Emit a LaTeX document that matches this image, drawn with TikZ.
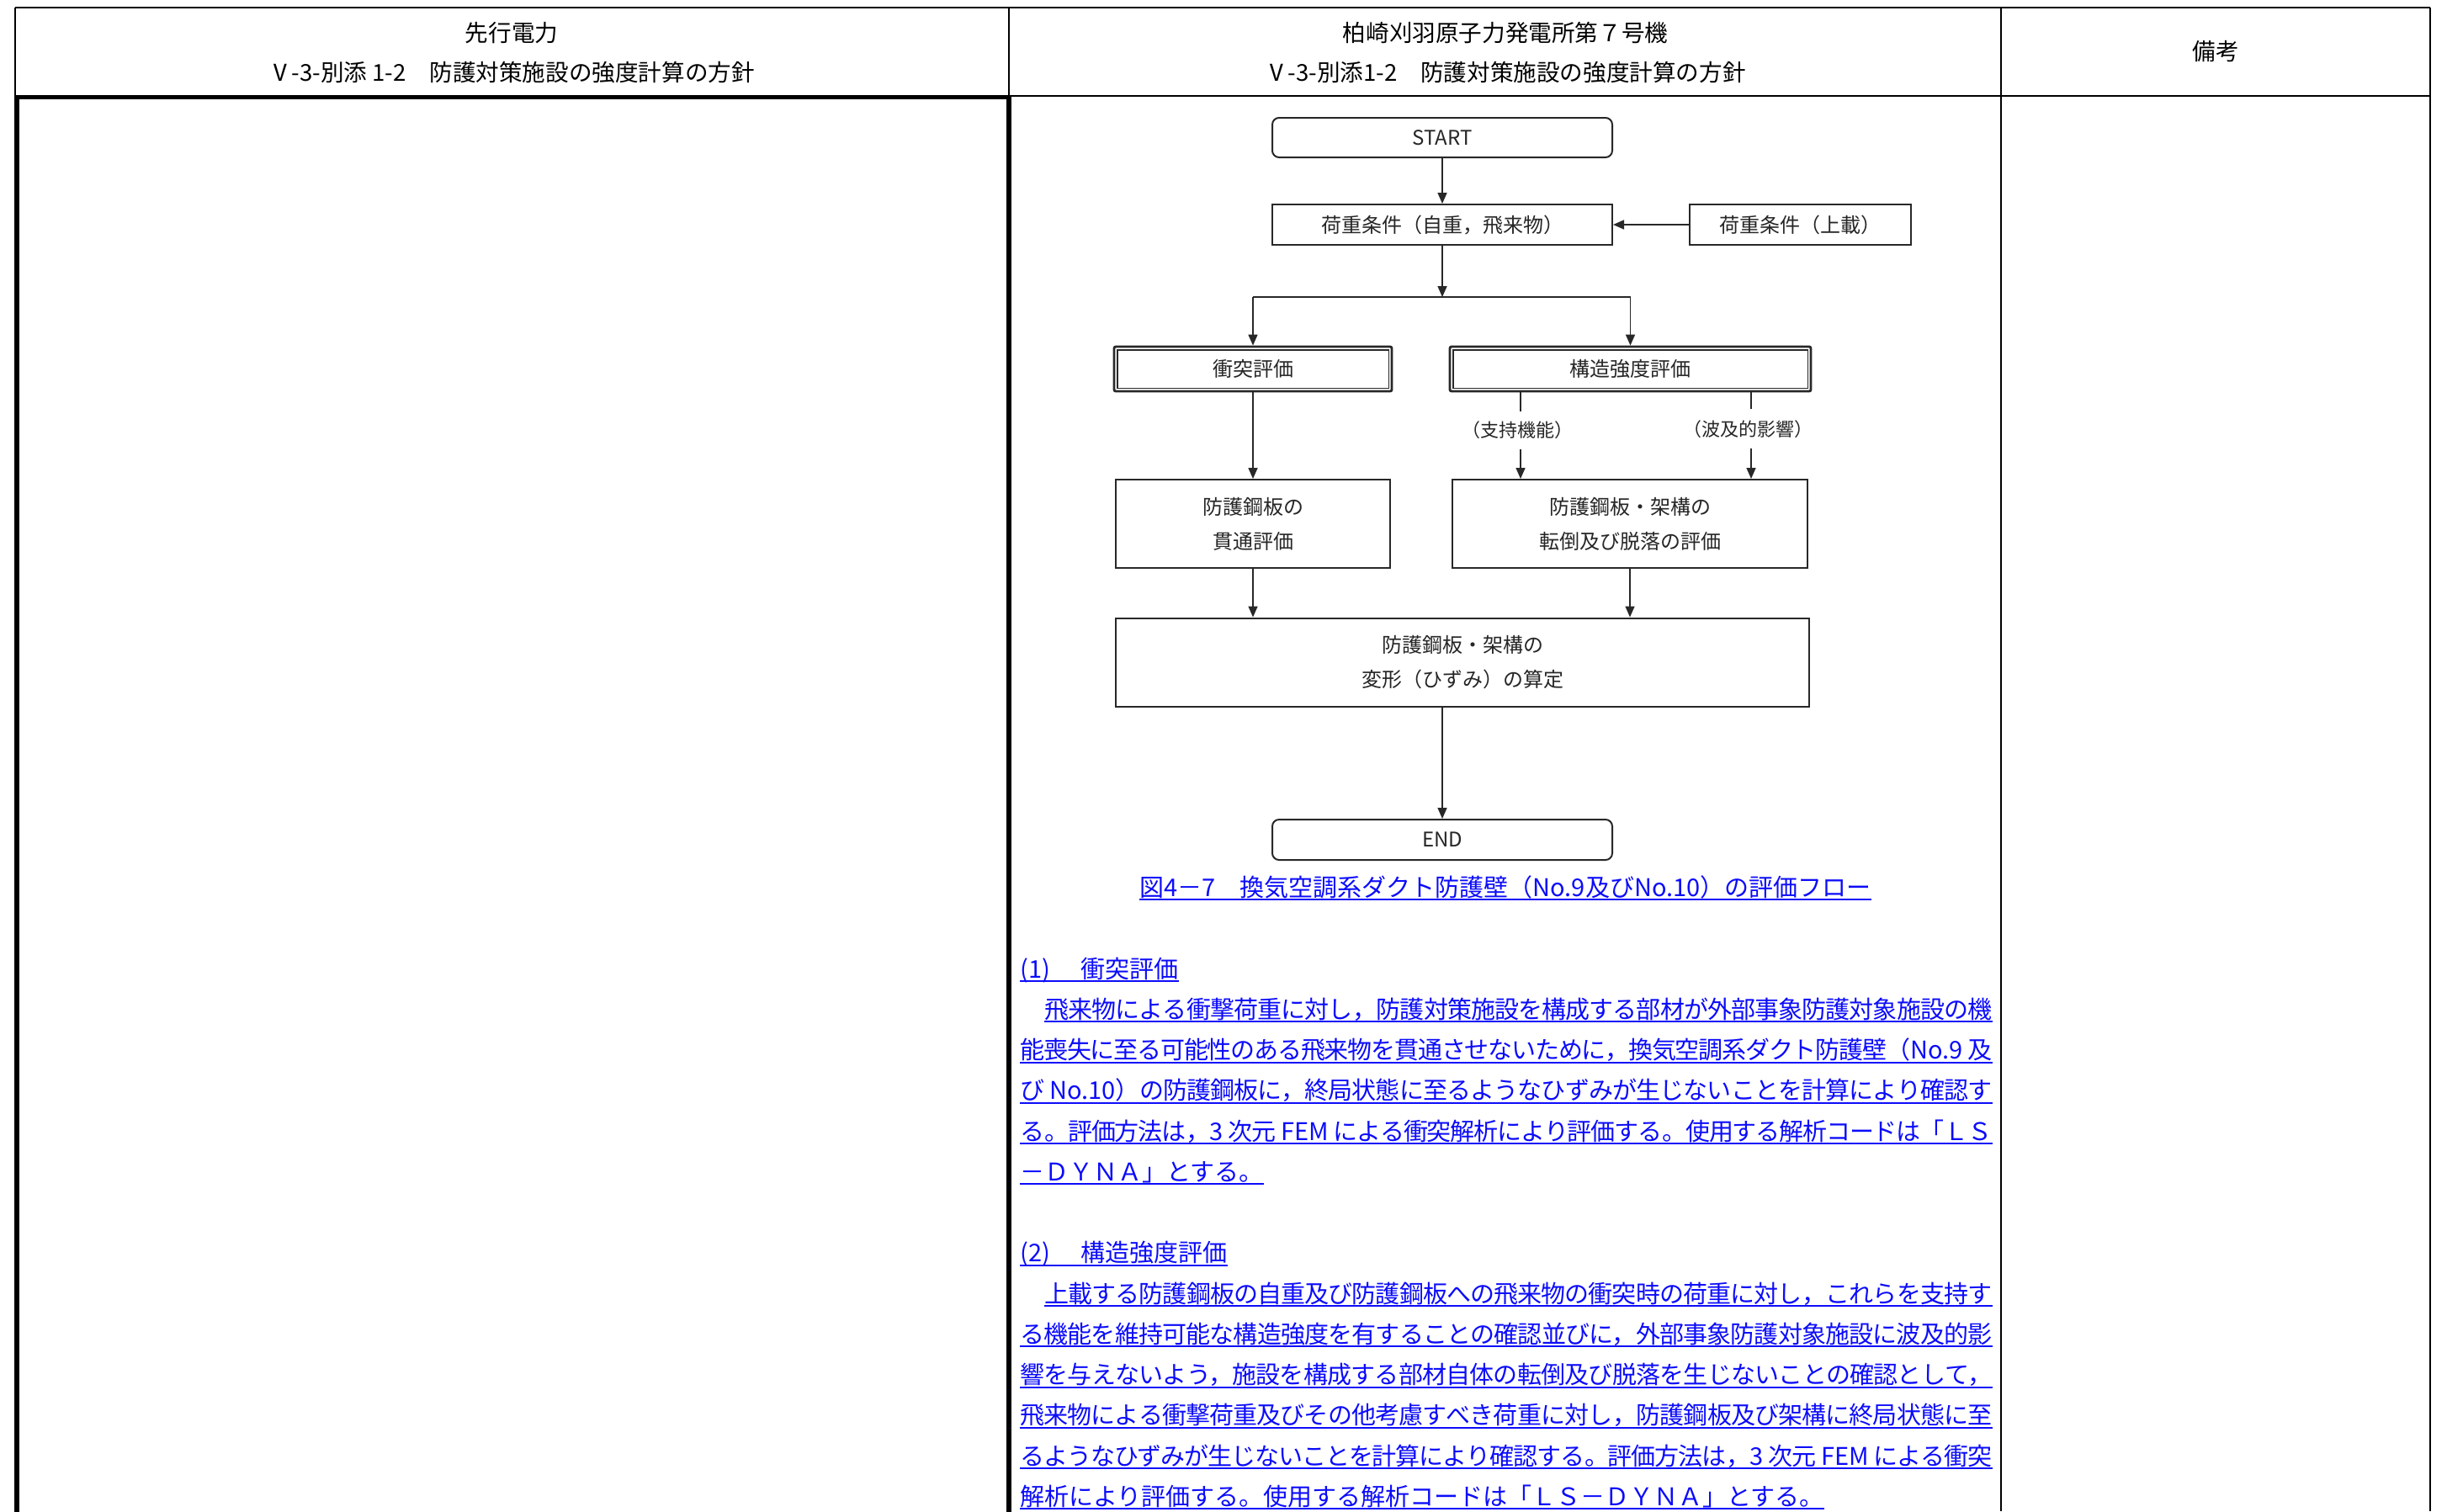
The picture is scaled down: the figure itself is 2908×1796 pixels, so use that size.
\documentclass[tikz,border=0pt]{standalone}
\usepackage{fontspec}
\setmainfont{Noto Sans CJK JP}
\usetikzlibrary{arrows.meta}
\XeTeXlinebreaklocale "ja"
\XeTeXlinebreakskip=0pt plus 4pt minus 2pt
\definecolor{jblue}{RGB}{12,12,250}
\definecolor{lc}{RGB}{40,40,40}
\newcommand\jl[1]{\parfillskip=0pt\relax\tolerance=10000\relax\noindent#1\par}
\newcommand\bodyfont{\fontsize{14.5}{14.5}\selectfont}
\newcommand\hdfont{\fontsize{13.8}{13.8}\selectfont}
\newcommand\flfont{\fontsize{12}{20.5}\selectfont}
\newcommand\lbfont{\fontsize{11}{11}\selectfont}
\begin{document}
\begin{tikzpicture}[x=0.5pt,y=-0.5pt,
  tline/.style={line width=0.9pt, draw=black},
  kline/.style={line width=2.6pt, draw=black, line join=miter},
  hd/.style={inner sep=0pt, font=\hdfont, text=black},
  fbox/.style={draw=lc, line width=1pt, inner sep=0pt, align=center, font=\flfont, text=black!85},
  rbox/.style={fbox, rounded corners=4pt},
  dbox/.style={fbox, line width=1.4pt, rounded corners=1pt},
  inner/.style={draw=lc, line width=0.9pt},
  arr/.style={draw=lc, line width=0.8pt, -{Triangle[length=6.5pt,width=5.5pt]}},
  conn/.style={draw=lc, line width=0.8pt},
  lbl/.style={inner sep=0pt, font=\lbfont, text=black!85},
  bline/.style={anchor=base west, inner sep=0pt, text width=577.5pt, align=justify, text=jblue, font=\bodyfont},
  bline1/.style={bline, text width=563pt},
  bnat/.style={anchor=base west, inner sep=0pt, text=jblue, font=\bodyfont},
  uline/.style={draw=jblue, line width=1pt},
]
\useasboundingbox (0,0) rectangle (2908,1796);
\fill[white] (0,0) rectangle (2908,1796);

% ---- table ----
\draw[tline] (18,9.2) -- (2888,9.2);
\draw[tline] (18,9.2) -- (18,114);
\draw[tline] (1199,9.2) -- (1199,114);
\draw[tline] (2378,9.2) -- (2378,1796);
\draw[tline] (2888,9.2) -- (2888,1796);
\draw[tline] (1199,114) -- (2888,114);
\draw[kline] (20,1800) -- (20,115.7) -- (1199,115.7) -- (1199,1800);

% ---- header ----
\node[hd] (h1a) at (608,39) {先行電力};
\node[hd] (h1b) at (608,86) {Ⅴ-3-別添 1-2　防護対策施設の強度計算の方針};
\node[hd] (h2a) at (1789,39) {柏崎刈羽原子力発電所第７号機};
\node[hd] (h2b) at (1789,86) {Ⅴ-3-別添1-2　防護対策施設の強度計算の方針};
\node[hd] (h3) at (2633,61) {備考};

% ---- flowchart ----
\node[rbox, minimum width=202pt, minimum height=23.5pt] (st) at (1714,163.5) {START};
\node[fbox, minimum width=202pt, minimum height=24pt] (ld) at (1714,267) {荷重条件（自重，飛来物）};
\node[fbox, minimum width=131.5pt, minimum height=24pt] (ld2) at (2139.5,267) {荷重条件（上載）};
\node[dbox, minimum width=165pt, minimum height=26.5pt] (im) at (1489,438.5) {衝突評価};
\draw[inner] ([shift={(5,5)}]im.north west) rectangle ([shift={(-5,-5)}]im.south east);
\node[dbox, minimum width=214.5pt, minimum height=26.5pt] (sg) at (1937.5,438.5) {構造強度評価};
\draw[inner] ([shift={(5,5)}]sg.north west) rectangle ([shift={(-5,-5)}]sg.south east);
\node[fbox, minimum width=163pt, minimum height=52.5pt] (pe) at (1489,622.5) {防護鋼板の\\貫通評価};
\node[fbox, minimum width=211pt, minimum height=52.5pt] (fa) at (1937,622.5) {防護鋼板・架構の\\転倒及び脱落の評価};
\node[fbox, minimum width=412pt, minimum height=52.5pt] (df) at (1738,787) {防護鋼板・架構の\\変形（ひずみ）の算定};
\node[rbox, minimum width=202pt, minimum height=24pt] (en) at (1714,998) {END};
\node[lbl] (la) at (1803,511) {（支持機能）};
\node[lbl] (lb) at (2077,510) {（波及的影響）};

\coordinate (jt) at (1714,353);
\coordinate (jl) at (1489,353);
\coordinate (jr) at (1937.5,353);
\coordinate (sa) at (1807,489);
\coordinate (sb) at (1807,534);
\coordinate (ra) at (2081,486);
\coordinate (rb) at (2081,533);

\draw[arr] (st.south) -- (ld.north);
\draw[arr] (ld2.west) -- (ld.east);
\draw[arr] (ld.south) -- (jt);
\draw[conn] (jl) -- (jr);
\draw[arr] (jl) -- (im.north);
\draw[arr] (jr) -- (sg.north);
\draw[arr] (im.south) -- (pe.north);
\draw[conn] (sa |- sg.south) -- (sa);
\draw[arr] (sb) -- (sb |- fa.north);
\draw[conn] (ra |- sg.south) -- (ra);
\draw[arr] (rb) -- (rb |- fa.north);
\draw[arr] (pe.south) -- (pe.south |- df.north);
\draw[arr] (fa.south) -- (fa.south |- df.north);
\draw[arr] (en.north |- df.south) -- (en.north);

% ---- caption ----
\node[bnat, anchor=base] (cap) at (1789,1065) {図4－7　換気空調系ダクト防護壁（No.9及びNo.10）の評価フロー};

% ---- body text ----
\node[bnat] (s1h) at (1212,1162) {\makebox[1.5em][l]{(1)}　衝突評価};
\node[bline1] (a1) at (1241,1210.25) {\jl{飛来物による衝撃荷重に対し，防護対策施設を構成する部材が外部事象防護対象施設の機}};
\node[bline] (a2) at (1212,1258.5) {\jl{能喪失に至る可能性のある飛来物を貫通させないために，換気空調系ダクト防護壁（No.9 及}};
\node[bline] (a3) at (1212,1306.75) {\jl{び No.10）の防護鋼板に，終局状態に至るようなひずみが生じないことを計算により確認す}};
\node[bline] (a4) at (1212,1355) {\jl{る。評価方法は，3 次元 FEM による衝突解析により評価する。使用する解析コードは「ＬＳ}};
\node[bnat] (a5) at (1212,1403.25) {－ＤＹＮＡ」とする。};

\node[bnat] (s2h) at (1212,1499.75) {\makebox[1.5em][l]{(2)}　構造強度評価};
\node[bline1] (b1) at (1241,1548) {\jl{上載する防護鋼板の自重及び防護鋼板への飛来物の衝突時の荷重に対し，これらを支持す}};
\node[bline] (b2) at (1212,1596.25) {\jl{る機能を維持可能な構造強度を有することの確認並びに，外部事象防護対象施設に波及的影}};
\node[bline] (b3) at (1212,1644.5) {\jl{響を与えないよう，施設を構成する部材自体の転倒及び脱落を生じないことの確認として，}};
\node[bline] (b4) at (1212,1692.75) {\jl{飛来物による衝撃荷重及びその他考慮すべき荷重に対し，防護鋼板及び架構に終局状態に至}};
\node[bline] (b5) at (1212,1741) {\jl{るようなひずみが生じないことを計算により確認する。評価方法は，3 次元 FEM による衝突}};
\node[bnat] (b6) at (1212,1789.25) {解析により評価する。使用する解析コードは「ＬＳ－ＤＹＮＡ」とする。};

\foreach \n in {cap,s1h,a1,a2,a3,a4,a5,s2h,b1,b2,b3,b4,b5,b6}
  \draw[uline] ([yshift=-2pt]\n.base west) -- ([yshift=-2pt]\n.base east);
\end{tikzpicture}
\end{document}
